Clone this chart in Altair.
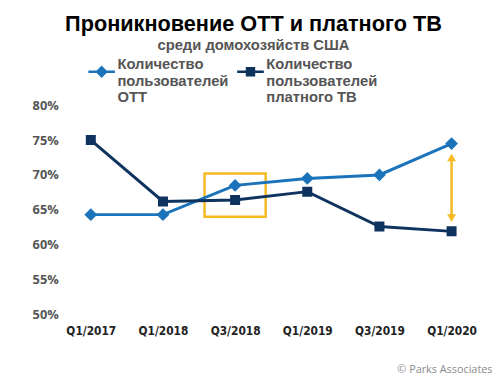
import altair as alt
import pandas as pd

quarters = ["Q1/2017", "Q1/2018", "Q3/2018", "Q1/2019", "Q3/2019", "Q1/2020"]
ott = [64.3, 64.3, 68.5, 69.5, 70.0, 74.5]
paytv = [75.0, 66.2, 66.4, 67.6, 62.6, 61.9]
series_names = ["Количество|пользователей|ОТТ", "Количество|пользователей|платного ТВ"]
colors = ["#1b74bb", "#0e335f"]
highlight_quarter = "Q3/2018"
highlight_range = [70.2, 64.0]
arrow_quarter = "Q1/2020"
arrow_range = [72.6, 63.7]
arrow_top = [72.5]
arrow_bottom = [63.8]

rows = []
for q, a, b in zip(quarters, ott, paytv):
    rows.append({"q": q, "v": a, "s": series_names[0]})
    rows.append({"q": q, "v": b, "s": series_names[1]})
df = pd.DataFrame(rows)

box_df = pd.DataFrame({"q": [highlight_quarter], "v": [highlight_range[0]], "v2": [highlight_range[1]]})
arrow_df = pd.DataFrame({"q": [arrow_quarter], "v": [arrow_range[0]], "v2": [arrow_range[1]]})
top_df = pd.DataFrame({"q": [arrow_quarter], "v": arrow_top})
bottom_df = pd.DataFrame({"q": [arrow_quarter], "v": arrow_bottom})

XFONT = "Liberation Sans Narrow, DejaVu Sans Condensed, sans-serif"
FONT = "Liberation Sans, Arial, sans-serif"

x_scale = alt.Scale(type="point", padding=0.369, domain=quarters)
y_scale = alt.Scale(domain=[50, 80], zero=False)

x_axis = alt.Axis(title="© Parks Associates", titleFont="Open Sans", titleFontSize=11,
                  titleFontWeight="normal", titleColor="#8a8a8a", titleAlign="right",
                  titleAnchor="end", titleX=434, titleY=59, titleBaseline="alphabetic",
                  labelFont=XFONT, labelFontSize=12, labelFontWeight="bold",
                  labelColor="#222222", labelPadding=12, labelAngle=0,
                  domain=False, ticks=False, grid=False)
y_axis = alt.Axis(title=None, values=[50, 55, 60, 65, 70, 75, 80],
                  labelExpr="datum.value + '%'", labelFont="Open Sans",
                  labelFontSize=13, labelFontWeight="bold", labelColor="#555555",
                  labelPadding=6, labelOverlap=False, domain=False, ticks=False, grid=False)
x_enc = alt.X("q:N", sort=quarters, scale=x_scale, axis=x_axis)
y_enc = alt.Y("v:Q", scale=y_scale, axis=y_axis)

color_scale = alt.Scale(domain=series_names, range=colors)

diamond_path = "M-1,0H-0.3M0.3,0H1M0,-0.333L0.333,0L0,0.333L-0.333,0Z"
square_path = "M-1,0H-0.26M0.26,0H1M-0.26,-0.26H0.26V0.26H-0.26Z"

legend = alt.Legend(title=None, orient="none", legendX=23, legendY=-49,
                    direction="horizontal", columns=2, columnPadding=3,
                    labelExpr="split(datum.label, '|')", labelBaseline="bottom",
                    labelFont=FONT, labelFontSize=15, labelFontWeight="bold",
                    labelColor="#555555", labelLimit=300, labelOffset=1,
                    symbolSize=729, symbolStrokeWidth=2.5, padding=0)

box = alt.Chart(box_df).mark_rect(width=62, fill=None, fillOpacity=0, stroke="#f5b921",
                                  strokeWidth=2.5).encode(
    x=x_enc, y=y_enc, y2="v2:Q")

lines = alt.Chart(df).mark_line(strokeWidth=3).encode(
    x=x_enc, y=y_enc,
    color=alt.Color("s:N", scale=color_scale, legend=legend))

points = alt.Chart(df).mark_point(filled=True, opacity=1).encode(
    x=x_enc, y=y_enc,
    color=alt.Color("s:N", scale=color_scale, legend=legend),
    stroke=alt.Stroke("s:N", scale=alt.Scale(domain=series_names, range=colors), legend=legend),
    shape=alt.Shape("s:N", scale=alt.Scale(domain=series_names, range=[diamond_path, square_path]),
                    legend=legend),
    size=alt.value(1521),
    strokeWidth=alt.value(0))

arrow = alt.Chart(arrow_df).mark_rule(color="#f5b921", strokeWidth=2.5).encode(
    x=x_enc, y=y_enc, y2="v2:Q")

head_up = alt.Chart(top_df).mark_point(filled=True, color="#f5b921", size=80, opacity=1,
                                      shape="triangle-up").encode(x=x_enc, y=y_enc)
head_down = alt.Chart(bottom_df).mark_point(filled=True, color="#f5b921", size=80, opacity=1,
                                           shape="triangle-down").encode(x=x_enc, y=y_enc)

chart = alt.layer(box, lines, points, arrow, head_up, head_down).properties(
    width=420, height=212,
    autosize=alt.AutoSizeParams(type="none"),
    padding={"left": 57, "top": 96, "right": 14, "bottom": 62},
    title=alt.TitleParams(
        text="Проникновение ОТТ и платного ТВ",
        subtitle="среди домохозяйств США",
        font=FONT, fontSize=22, fontWeight="bold", color="#000000",
        subtitleFont=FONT, subtitleFontSize=15, subtitleFontWeight="bold",
        subtitleColor="#555555", subtitlePadding=2,
        anchor="middle", dx=-18, offset=3)
).configure_view(stroke=None)

chart.save("out.html", embed_options={"renderer": "svg", "actions": False})
